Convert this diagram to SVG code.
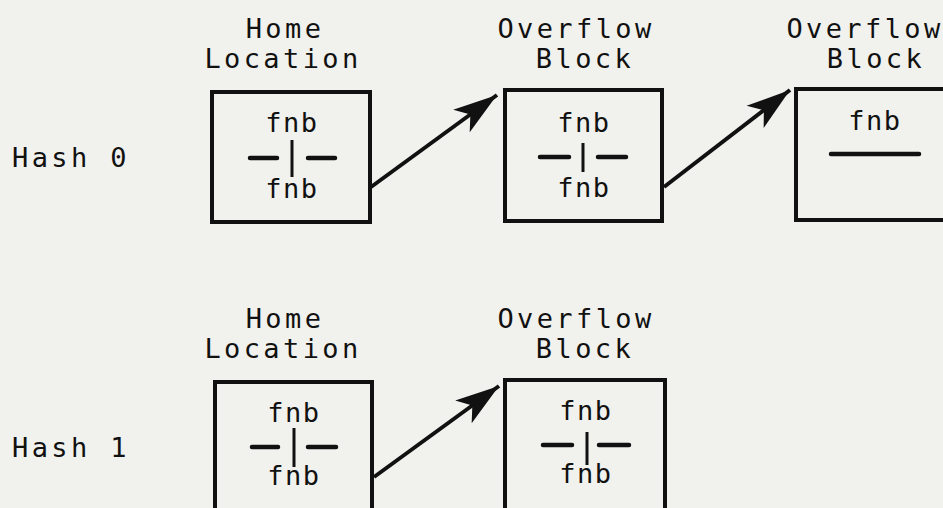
<svg xmlns="http://www.w3.org/2000/svg" width="943" height="508" viewBox="0 0 943 508">
  <defs>
    <marker id="head" markerUnits="userSpaceOnUse" markerWidth="52" markerHeight="36" refX="46" refY="18" orient="auto" viewBox="0 0 52 36">
      <path d="M46,18 L2,4 L13,18 L2,32 Z" fill="#111"/>
    </marker>
    <style>
      .lbl { font-family: "DejaVu Sans Mono", "Liberation Mono", monospace; font-size: 27px; letter-spacing: 3.4px; fill: #111; }
      .fld { font-family: "DejaVu Sans Mono", "Liberation Mono", monospace; font-size: 27px; letter-spacing: 1.5px; fill: #111; text-anchor: middle; }
      .mid { text-anchor: middle; }
      .box { fill: none; stroke: #111; stroke-width: 4; }
      .dash { stroke: #111; stroke-width: 4.5; stroke-linecap: round; }
      .bar { stroke: #111; stroke-width: 3; }
      .link { stroke: #111; stroke-width: 4; fill: none; marker-end: url(#head); }
    </style>
  </defs>

  <rect width="943" height="508" fill="#f1f1ee"/>

  <!-- row labels -->
  <text class="lbl" x="12" y="167">Hash 0</text>
  <text class="lbl" x="12" y="457">Hash 1</text>

  <!-- column headings -->
  <text class="lbl mid" x="285" y="38">Home</text>
  <text class="lbl mid" x="283" y="68">Location</text>
  <text class="lbl mid" x="576" y="38">Overflow</text>
  <text class="lbl mid" x="585" y="68">Block</text>
  <text class="lbl mid" x="865" y="38">Overflow</text>
  <text class="lbl mid" x="876" y="68">Block</text>

  <text class="lbl mid" x="285" y="328">Home</text>
  <text class="lbl mid" x="283" y="358">Location</text>
  <text class="lbl mid" x="576" y="328">Overflow</text>
  <text class="lbl mid" x="585" y="358">Block</text>

  <!-- Hash 0 home location -->
  <g id="home0">
    <rect class="box" x="212" y="92" width="158" height="130"/>
    <text class="fld" x="292" y="132">fnb</text>
    <line class="dash" x1="250" y1="158" x2="277" y2="158"/>
    <line class="dash" x1="308" y1="158" x2="335" y2="158"/>
    <line class="bar" x1="292" y1="140" x2="292" y2="177"/>
    <text class="fld" x="292" y="198">fnb</text>
  </g>

  <!-- Hash 0 first overflow block -->
  <g id="overflow0a">
    <rect class="box" x="505" y="90" width="157" height="131"/>
    <text class="fld" x="584" y="132">fnb</text>
    <line class="dash" x1="540" y1="157" x2="569" y2="157"/>
    <line class="dash" x1="598" y1="157" x2="626" y2="157"/>
    <line class="bar" x1="583" y1="143" x2="583" y2="172"/>
    <text class="fld" x="584" y="197">fnb</text>
  </g>

  <!-- Hash 0 second overflow block -->
  <g id="overflow0b">
    <rect class="box" x="796" y="89" width="160" height="131"/>
    <text class="fld" x="875" y="130">fnb</text>
    <line class="dash" x1="831" y1="154" x2="919" y2="154"/>
  </g>

  <!-- Hash 1 home location -->
  <g id="home1">
    <rect class="box" x="215" y="382" width="157" height="140"/>
    <text class="fld" x="294" y="422">fnb</text>
    <line class="dash" x1="252" y1="447" x2="278" y2="447"/>
    <line class="dash" x1="308" y1="447" x2="336" y2="447"/>
    <line class="bar" x1="294" y1="428" x2="294" y2="467"/>
    <text class="fld" x="294" y="485">fnb</text>
  </g>

  <!-- Hash 1 overflow block -->
  <g id="overflow1a">
    <rect class="box" x="505" y="380" width="160" height="140"/>
    <text class="fld" x="586" y="420">fnb</text>
    <line class="dash" x1="543" y1="445" x2="572" y2="445"/>
    <line class="dash" x1="599" y1="445" x2="629" y2="445"/>
    <line class="bar" x1="587" y1="432" x2="587" y2="465"/>
    <text class="fld" x="586" y="483">fnb</text>
  </g>

  <!-- chain pointers -->
  <g id="links">
    <line class="link" x1="371" y1="187" x2="497" y2="95"/>
    <line class="link" x1="664" y1="187" x2="790" y2="90"/>
    <line class="link" x1="374" y1="477" x2="499" y2="386"/>
  </g>
</svg>
